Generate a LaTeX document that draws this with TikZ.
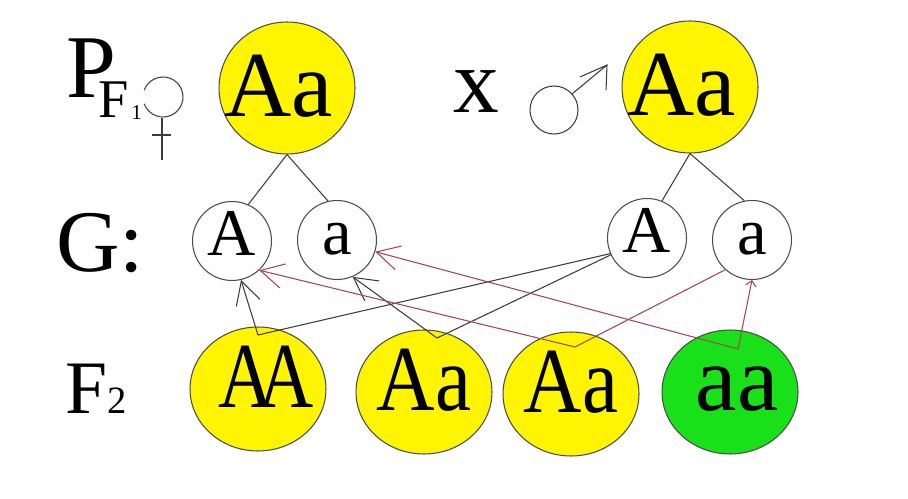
\documentclass[tikz,border=0pt]{standalone}
\usepackage{fontspec}
\setmainfont{Liberation Serif}
\usetikzlibrary{shapes.geometric,arrows.meta}
\definecolor{genyellow}{RGB}{255,245,0}
\definecolor{gengreen}{RGB}{25,225,25}
\definecolor{linered}{RGB}{165,70,75}
\definecolor{linegray}{RGB}{60,60,60}

\begin{document}
\begin{tikzpicture}[x=0.02cm,y=-0.02cm,
  pcell/.style={ellipse,draw=black!70,line width=0.6pt,fill=genyellow,minimum width=2.72cm,minimum height=2.64cm,inner sep=0pt,text height=35pt,text depth=2pt,font=\fontsize{53}{60}\selectfont},
  fcell/.style={pcell,minimum height=2.48cm,text depth=13.5pt},
  gcell/.style={circle,draw=black!70,line width=0.6pt,minimum size=1.58cm,inner sep=0pt,text height=25pt,text depth=9pt,font=\fontsize{38}{44}\selectfont},
  lbl/.style={inner sep=0pt,anchor=base west},
  dline/.style={draw=linegray,line width=0.6pt},
  rline/.style={draw=linered,line width=0.6pt},
  gbarb/.style={-{Straight Barb[length=13pt,width=14pt]}}]
\useasboundingbox (0,0) rectangle (908,499);

\node[lbl,font=\fontsize{51}{56}\selectfont] (lblP) at (66,98) {P};
\node[lbl,font=\fontsize{31}{36}\selectfont] (lblF) at (98,118) {F};
\node[lbl,font=\fontsize{12}{14}\selectfont] (lbl1) at (131,120) {1};
\node[lbl,font=\fontsize{50}{56}\selectfont] (lblG) at (56,272) {G:};
\node[lbl,font=\fontsize{43}{48}\selectfont] (lblF2) at (65,413) {F{\fontsize{22}{24}\selectfont 2}};
\node[anchor=base,inner sep=0pt,font=\fontsize{52}{56}\selectfont] (cross) at (476,113) {x};

\coordinate (fem) at (163,97);
\draw[dline] (fem) ++(200:20) arc[start angle=200,end angle=520,radius=20];
\draw[dline] (162,118) -- (162,160) (152,135) -- (171,135);
\coordinate (mal) at (554,110);
\draw[dline] (mal) circle[radius=24];
\draw[dline] (572,94) -- (607,65) (580,77) -- (607,65) -- (606,90);

\node[pcell] (Pf) at (287,88) {\makebox[0pt]{Aa\kern.18em}};
\node[pcell] (Pm) at (690,87) {\makebox[0pt]{Aa\kern.18em}};

\node[gcell] (Gf1) at (232,241) {A};
\node[gcell] (Gf2) at (337,240) {a};
\node[gcell] (Gm1) at (647,238) {A};
\node[gcell] (Gm2) at (752,240) {a};

\node[fcell] (cAA) at (258,389) {\makebox[0pt]{\kern.17em\scalebox{0.82}[1]{A\kern-.2em A}}};
\node[fcell] (cAa1) at (424,392) {\makebox[0pt]{\scalebox{0.87}[1]{Aa}}};
\node[fcell] (cAa2) at (571,394) {\makebox[0pt]{\scalebox{0.87}[1]{Aa}}};
\node[fcell,fill=gengreen] (caa) at (730,392) {\makebox[0pt]{\kern.15em aa}};

\coordinate (vAA) at (258,335);
\coordinate (vAa1) at (437,338);
\coordinate (vAa2) at (575,347);
\coordinate (vaa) at (738,349);

\draw[dline] (Pf.south) -- (Gf1.66);
\draw[dline] (Pf.south) -- (Gf2.103);
\draw[dline] (Pm.south) -- (Gm1.68);
\draw[dline] (Pm.south) -- (Gm2.101);

\draw[dline,gbarb] (vAA) -- (Gf1.-77);
\draw[dline] (vAA) -- (Gm1.-157);
\draw[dline,gbarb] (vAa1) -- (Gf2.-67);
\draw[dline] (vAa1) -- (Gm1.-155);
\draw[rline,gbarb] (vAa2) -- (Gf1.-47);
\draw[rline] (vAa2) -- (Gm2.-132);
\draw[rline,gbarb] (vaa) -- (Gf2.-17);
\draw[rline,-{Straight Barb[length=3pt,width=6pt]}] (vaa) -- (Gm2.south);
\end{tikzpicture}
\end{document}
